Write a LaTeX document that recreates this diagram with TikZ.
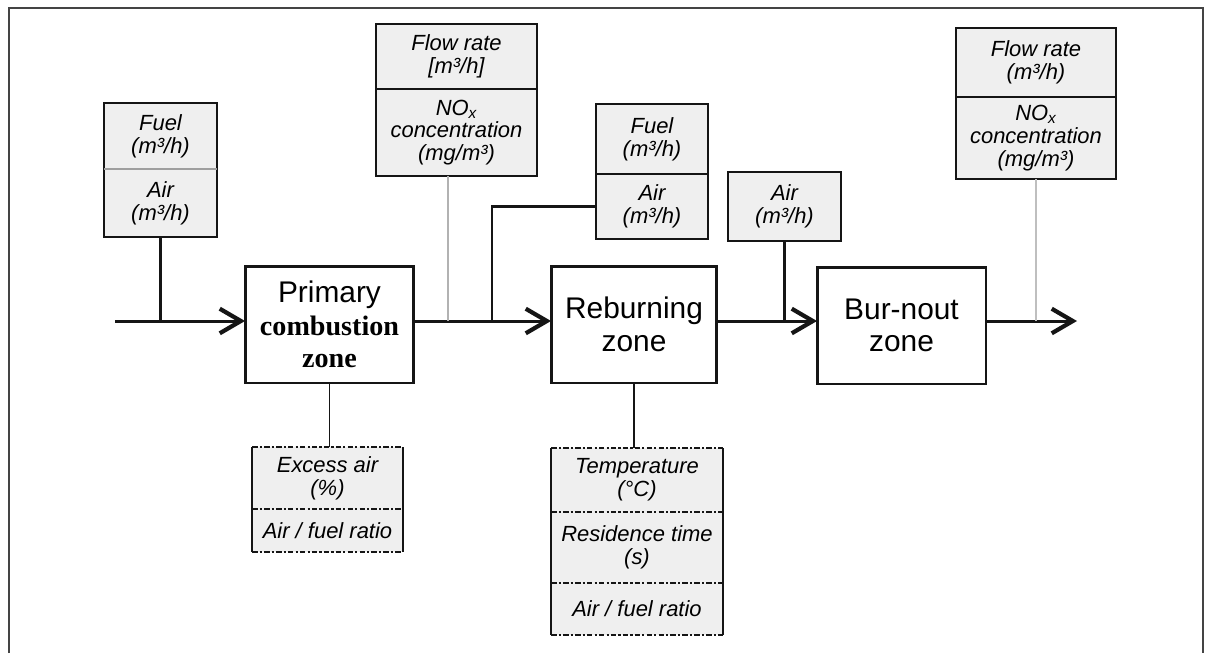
\documentclass[tikz,border=0pt]{standalone}
\usepackage{fontspec}
\setmainfont{Liberation Serif}
\setsansfont{Liberation Sans}
\usetikzlibrary{positioning,arrows.meta}
\definecolor{boxgray}{HTML}{EFEFEF}
\definecolor{ink}{HTML}{151515}
\newcommand{\serifzone}{\rmfamily\bfseries\fontsize{16}{18}\selectfont}
\tikzset{
  zone/.style={draw=ink, line width=1.7pt, minimum width=3.38cm, minimum height=2.34cm,
    align=center, inner sep=0pt, outer sep=0pt, font=\sffamily\fontsize{17}{18.5}\selectfont},
  info/.style={draw=ink, line width=1pt, fill=boxgray, align=center, inner sep=0pt,
    outer sep=0pt, font=\sffamily\itshape\fontsize{12.5}{13}\selectfont},
  param/.style={info, draw=none},
  flow/.style={draw=ink, line width=1.7pt, -{Straight Barb[length=12pt,width=14pt,line width=2.4pt]}},
  feed/.style={draw=ink, line width=1.7pt},
  tap/.style={draw=ink, line width=1.1pt},
  probe/.style={draw=gray!60, line width=0.8pt},
  ddline/.style={draw=ink, line width=1.4pt, dash pattern=on 3.2pt off 1.2pt on 1.2pt off 1.2pt}
}
\begin{document}
\begin{tikzpicture}[x=0.02cm, y=-0.02cm]
  \useasboundingbox (0,0) rectangle (1214,653);
  % frame
  \draw[ink!80, line width=1pt] (9,653) -- (9,8) -- (1203,8) -- (1203,653);

  % zones
  \node[zone] (prim) at (329.5,324.5) {Primary\\{\serifzone combustion}\\{\serifzone zone}};
  \node[zone, minimum width=3.32cm] (reburn) at (634,324.5) {Reburning\\zone};
  \node[zone] (burn) at (901.5,325.5) {Bur-nout\\zone};

  % measured values
  \node[info, minimum width=2.26cm, minimum height=1.32cm] (fuelA) at (160.5,136) {Fuel\\(m³/h)};
  \node[info, minimum width=2.26cm, minimum height=1.36cm, below=0pt of fuelA] (airA) {Air\\(m³/h)};
  \draw[gray!75, line width=1.5pt] (airA.north west) -- (airA.north east);

  \node[info, minimum width=3.22cm, minimum height=1.30cm] (flowB) at (456.5,56.5) {Flow rate\\{[}m³/h{]}};
  \node[info, minimum width=3.22cm, minimum height=1.74cm, below=0pt of flowB] (noxB) {NO\textsubscript{x}\\concentration\\(mg/m³)};

  \node[info, minimum width=2.24cm, minimum height=1.40cm] (fuelC) at (652,139) {Fuel\\(m³/h)};
  \node[info, minimum width=2.24cm, minimum height=1.30cm, below=0pt of fuelC] (airC) {Air\\(m³/h)};

  \node[info, minimum width=2.26cm, minimum height=1.38cm] (airD) at (784.5,206.5) {Air\\(m³/h)};

  \node[info, minimum width=3.20cm, minimum height=1.38cm] (flowE) at (1036,62.5) {Flow rate\\(m³/h)};
  \node[info, minimum width=3.20cm, minimum height=1.64cm, below=0pt of flowE] (noxE) {NO\textsubscript{x}\\concentration\\(mg/m³)};

  % operating parameters
  \node[param, minimum width=3.02cm, minimum height=1.24cm] (excF) at (327.5,478) {Excess air\\(\%)};
  \node[param, minimum width=3.02cm, minimum height=0.86cm, below=0pt of excF] (ratioF) {Air / fuel ratio};
  \draw[tap] (excF.north west) -- (ratioF.south west);
  \draw[tap] (excF.north east) -- (ratioF.south east);
  \draw[ddline] (excF.north west) -- (excF.north east);
  \draw[ddline] (ratioF.north west) -- (ratioF.north east);
  \draw[ddline] (ratioF.south west) -- (ratioF.south east);

  \node[param, minimum width=3.44cm, minimum height=1.28cm] (tempG) at (637,480) {Temperature\\(°C)};
  \node[param, minimum width=3.44cm, minimum height=1.42cm, below=0pt of tempG] (resG) {Residence time\\(s)};
  \node[param, minimum width=3.44cm, minimum height=1.04cm, below=0pt of resG] (ratioG) {Air / fuel ratio};
  \draw[tap] (tempG.north west) -- (ratioG.south west);
  \draw[tap] (tempG.north east) -- (ratioG.south east);
  \draw[ddline] (tempG.north west) -- (tempG.north east);
  \draw[ddline] (resG.north west) -- (resG.north east);
  \draw[ddline] (ratioG.north west) -- (ratioG.north east);
  \draw[ddline] (ratioG.south west) -- (ratioG.south east);

  % main stream
  \coordinate (in) at (115,321);
  \coordinate (jC) at (492,321);
  \coordinate (out) at (1077,321);
  \draw[flow] (in) -- (in -| prim.west);
  \draw[flow] (prim.east |- in) -- (in -| reburn.west);
  \draw[flow] (reburn.east |- in) -- (in -| burn.west);
  \draw[flow] (burn.east |- in) -- (out);

  % feeds and taps
  \draw[feed] (airA.south) -- (airA.south |- in);
  \draw[feed] (airC.west) -| (jC);
  \draw[feed] (airD.south) -- (airD.south |- in);
  \draw[probe] (noxB.south -| 448,0) -- (in -| 448,0);
  \draw[probe, gray!50, line width=1.2pt] (noxE.south) -- (noxE.south |- out);
  \draw[tap] (prim.south) -- (prim.south |- excF.north);
  \draw[tap] (reburn.south) -- (reburn.south |- tempG.north);
\end{tikzpicture}
\end{document}
